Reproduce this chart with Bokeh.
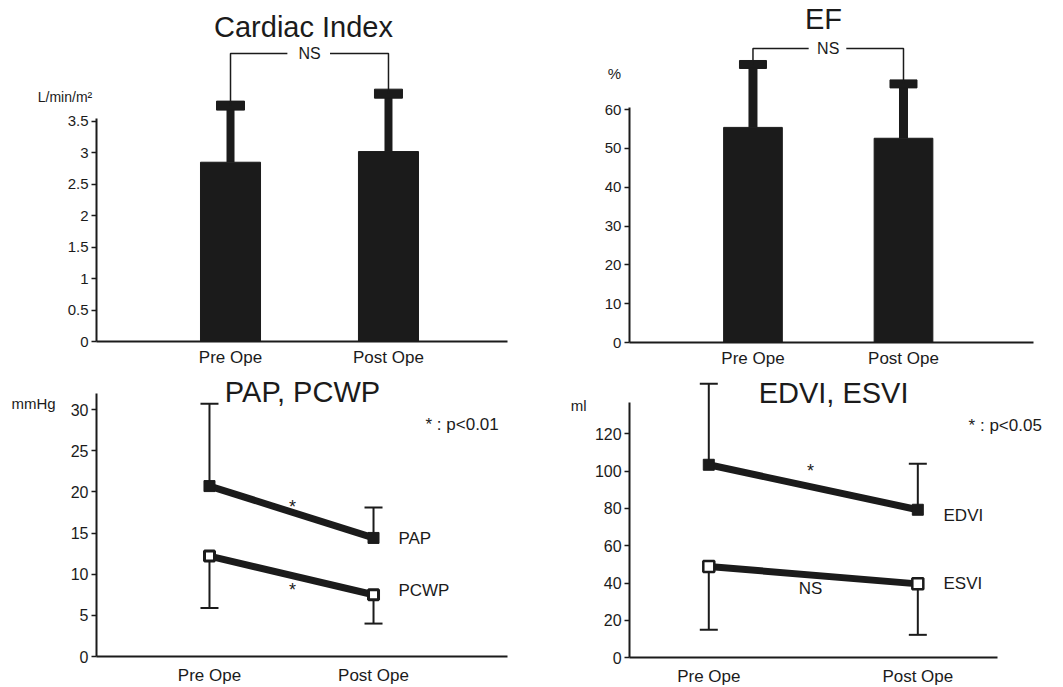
from bokeh.plotting import figure
from bokeh.layouts import row, column
from bokeh.models import Label, FixedTicker, Range1d
from bokeh.embed import file_html
from bokeh.resources import INLINE

# ---------------- data ----------------
groups = ["Pre Ope", "Post Ope"]
xpos = [0, 1]

ci_mean = [2.85, 3.02]
ci_upper = [3.75, 3.94]

ef_mean = [55.4, 52.6]
ef_upper = [71.6, 66.6]

pap_mean = [20.7, 14.4]
pap_upper = [30.7, 18.1]
pcwp_mean = [12.2, 7.5]
pcwp_lower = [5.9, 4.0]

edvi_mean = [103.4, 79.3]
edvi_upper = [146.8, 103.9]
esvi_mean = [48.9, 39.6]
esvi_lower = [15.0, 12.3]

ci_ticks = [0, 0.5, 1, 1.5, 2, 2.5, 3, 3.5]
ci_tick_labels = ["0", "0.5", "1", "1.5", "2", "2.5", "3", "3.5"]
ef_ticks = [0, 10, 20, 30, 40, 50, 60]
ef_tick_labels = ["0", "10", "20", "30", "40", "50", "60"]
pap_ticks = [0, 5, 10, 15, 20, 25, 30]
pap_tick_labels = ["0", "5", "10", "15", "20", "25", "30"]
vol_ticks = [0, 20, 40, 60, 80, 100, 120]
vol_tick_labels = ["0", "20", "40", "60", "80", "100", "120"]

FONT = "Liberation Sans"
INK = "#1b1b1b"


def make_fig(w, h, xr, yr, xbounds, ticks, labels, ytop, yfs, xfs, xstand):
    p = figure(width=w, height=h, x_range=Range1d(*xr), y_range=Range1d(*yr),
               output_backend="svg", toolbar_location=None,
               min_border_left=0, min_border_right=0,
               min_border_top=0, min_border_bottom=0)
    p.outline_line_color = None
    p.grid.visible = False
    p.background_fill_color = "white"
    p.border_fill_color = "white"
    xa = p.xaxis[0]
    xa.fixed_location = 0
    xa.bounds = xbounds
    xa.ticker = FixedTicker(ticks=xpos)
    xa.major_label_overrides = {x: g for x, g in zip(xpos, groups)}
    xa.major_tick_line_color = None
    xa.major_tick_out = 0
    xa.major_tick_in = 0
    xa.minor_tick_line_color = None
    xa.axis_line_width = 2
    xa.axis_line_color = INK
    xa.major_label_text_font = FONT
    xa.major_label_text_font_size = xfs
    xa.major_label_text_color = INK
    xa.major_label_standoff = xstand
    ya = p.yaxis[0]
    ya.fixed_location = xbounds[0]
    ya.ticker = FixedTicker(ticks=ticks)
    ya.major_label_overrides = {t: l for t, l in zip(ticks, labels)}
    ya.minor_tick_line_color = None
    ya.major_tick_out = 5
    ya.major_tick_in = 0
    ya.major_tick_line_width = 1.5
    ya.major_tick_line_color = INK
    ya.axis_line_width = 2
    ya.axis_line_color = INK
    ya.bounds = (0, ytop)
    ya.major_label_text_font = FONT
    ya.major_label_text_font_size = yfs
    ya.major_label_text_color = INK
    ya.major_label_standoff = 3
    return p


def txt(p, x, y, text, size, align="center", baseline="middle", yoff=0):
    p.add_layout(Label(x=x, y=y, text=text, text_font=FONT, text_font_size=size,
                       text_color=INK, text_align=align, text_baseline=baseline,
                       y_offset=yoff))


def bar_panel(p, mean, upper, bw, stem, capw, caph, bracket_y, gap):
    p.vbar(x=xpos, top=mean, width=bw, bottom=0, fill_color=INK, line_color=INK)
    p.segment(x0=xpos, y0=mean, x1=xpos, y1=upper, line_width=stem, line_color=INK)
    p.rect(x=xpos, y=upper, width=capw, height=caph, width_units="screen",
           height_units="screen", fill_color=INK, line_color=INK)
    p.multi_line(xs=[[xpos[0], xpos[0], gap[0]], [gap[1], xpos[1], xpos[1]]],
                 ys=[[upper[0], bracket_y, bracket_y], [bracket_y, bracket_y, upper[1]]],
                 line_width=1.5, line_color=INK)
    txt(p, 0.5, bracket_y, "NS", "16px")


def err(p, x, y0, y1, capw):
    p.segment(x0=x, y0=y0, x1=x, y1=y1, line_width=2, line_color=INK)
    p.scatter(x=x, y=y1, marker="dash", size=capw, line_width=2, line_color=INK)


# ---------------- Cardiac Index ----------------
p1 = make_fig(530, 370, (-1.456, 1.899), (-0.461, 5.421), (-0.848, 1.753),
              ci_ticks, ci_tick_labels, 3.55, "15px", "17px", 6)
bar_panel(p1, ci_mean, ci_upper, 0.38, 8, 28, 9, 4.58, (0.36, 0.63))
txt(p1, 0.462, 5.0, "Cardiac Index", "29px")
txt(p1, -1.22, 3.88, "L/min/m²", "14px", align="left")

# ---------------- EF ----------------
p2 = make_fig(533, 370, (-1.478, 2.063), (-7.21, 88.08), (-0.821, 1.864),
              ef_ticks, ef_tick_labels, 60.5, "15px", "17px", 6)
bar_panel(p2, ef_mean, ef_upper, 0.39, 9, 27, 8, 75.7, (0.37, 0.62))
txt(p2, 0.468, 83.4, "EF", "29px")
txt(p2, -0.921, 69.3, "%", "15px")

# ---------------- PAP, PCWP ----------------
p3 = make_fig(530, 317, (-1.274, 1.957), (-3.765, 34.74), (-0.689, 1.817),
              pap_ticks, pap_tick_labels, 32.0, "16px", "17px", 9)
p3.line(xpos, pap_mean, line_width=7, line_color=INK)
p3.line(xpos, pcwp_mean, line_width=7, line_color=INK)
err(p3, xpos, pap_mean, pap_upper, 18)
err(p3, xpos, pcwp_mean, pcwp_lower, 18)
p3.scatter(xpos, pap_mean, marker="square", size=11, fill_color=INK, line_color=INK)
p3.scatter(xpos, pcwp_mean, marker="square", size=10, fill_color="white",
           line_color=INK, line_width=3)
txt(p3, 0.567, 32.07, "PAP, PCWP", "29px")
txt(p3, -1.073, 30.73, "mmHg", "15px")
txt(p3, 1.152, 14.33, "PAP", "17px", align="left")
txt(p3, 1.152, 8.02, "PCWP", "17px", align="left")
txt(p3, 1.317, 28.18, "* : p<0.01", "17px", align="left")
txt(p3, 0.506, 18.7, "*", "18px", yoff=-4)
txt(p3, 0.506, 8.62, "*", "18px", yoff=-4)

# ---------------- EDVI, ESVI ----------------
p4 = make_fig(533, 317, (-0.853, 1.697), (-15.91, 153.9), (-0.379, 1.381),
              vol_ticks, vol_tick_labels, 137.0, "16px", "17px", 9)
p4.line(xpos, edvi_mean, line_width=7, line_color=INK)
p4.line(xpos, esvi_mean, line_width=7, line_color=INK)
err(p4, xpos, edvi_mean, edvi_upper, 18)
err(p4, xpos, esvi_mean, esvi_lower, 18)
p4.scatter(xpos, edvi_mean, marker="square", size=11, fill_color=INK, line_color=INK)
p4.scatter(xpos, esvi_mean, marker="square", size=11, fill_color="white",
           line_color=INK, line_width=2.5)
txt(p4, 0.597, 142.1, "EDVI, ESVI", "29px")
txt(p4, -0.623, 135.2, "ml", "15px")
txt(p4, 1.123, 76.2, "EDVI", "17px", align="left")
txt(p4, 1.123, 39.6, "ESVI", "17px", align="left")
txt(p4, 1.243, 124.4, "* : p<0.05", "17px", align="left")
txt(p4, 0.487, 102.1, "*", "18px", yoff=-4)
txt(p4, 0.487, 37.0, "NS", "17px")

layout = column(row(p1, p2), row(p3, p4))
open("out.html", "w").write(file_html(layout, INLINE))
